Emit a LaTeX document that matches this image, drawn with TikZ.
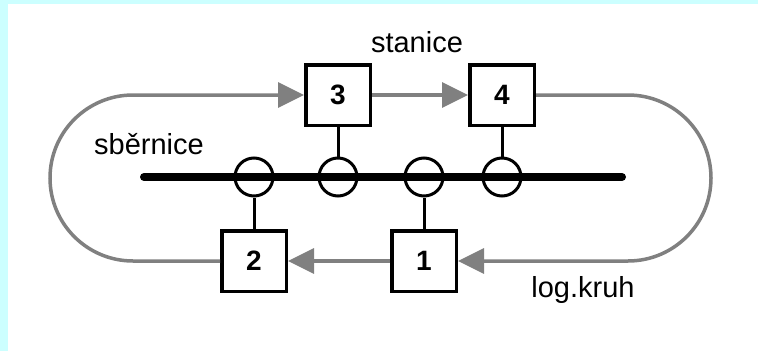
\documentclass[tikz,border=0pt]{standalone}
\usepackage{fontspec}
\setmainfont{Liberation Sans}
\usetikzlibrary{arrows.meta,positioning}

\definecolor{bgcyan}{RGB}{204,255,255}
\definecolor{ringgray}{RGB}{128,128,128}

\tikzset{
  stn/.style={draw,line width=3.5pt,minimum width=64.5pt,minimum height=60.5pt,
    font=\fontsize{28}{30}\selectfont\bfseries},
  tap/.style={draw,circle,line width=3pt,minimum size=38pt,inner sep=0pt},
  ring/.style={draw=ringgray,line width=3.5pt},
  lbl/.style={font=\fontsize{29}{31}\selectfont}
}

\begin{document}
\begin{tikzpicture}[x=1pt,y=-1pt,>={Triangle[length=26pt,width=25pt]}]

  % background
  \fill[bgcyan] (0,0) rectangle (758,351);
  \fill[white] (8,4) rectangle (758,351);
  \useasboundingbox (0,0) rectangle (758,351);

  % stations
  \node[stn] (s3) at (338,95) {3};
  \node[stn] (s4) at (502,95) {4};
  \node[stn] (s2) at (254,261) {2};
  \node[stn] (s1) at (424,261) {1};

  % bus
  \coordinate (bl) at (144,177);
  \coordinate (br) at (622,177);
  \draw[line width=8pt,line cap=round] (bl) -- (br);

  \node[tap] (t2) at (s2 |- bl) {};
  \node[tap] (t3) at (s3 |- bl) {};
  \node[tap] (t1) at (s1 |- bl) {};
  \node[tap] (t4) at (s4 |- bl) {};

  \draw[line width=3pt] (s3.south) -- (t3.north)
                        (s4.south) -- (t4.north)
                        (s2.north) -- (t2.south)
                        (s1.north) -- (t1.south);

  % logical ring
  \coordinate (lx) at (133,0);
  \coordinate (rx) at (628,0);
  \draw[ring,->] (s3.east) -- (s4.west);
  \draw[ring,->] (s4.east) -- (s4.east -| rx)
        arc[start angle=-90,end angle=90,radius=83] -- (s1.east);
  \draw[ring,->] (s1.west) -- (s2.east);
  \draw[ring,->] (s2.west) -- (s2.west -| lx)
        arc[start angle=90,end angle=270,radius=83] -- (s3.west);

  % labels
  \node[lbl] (stanice) at (417,42) {stanice};
  \node[lbl] (sbernice) at (149,144) {sběrnice};
  \node[lbl] (kruh) at (583,290) {log.kruh};

\end{tikzpicture}
\end{document}
